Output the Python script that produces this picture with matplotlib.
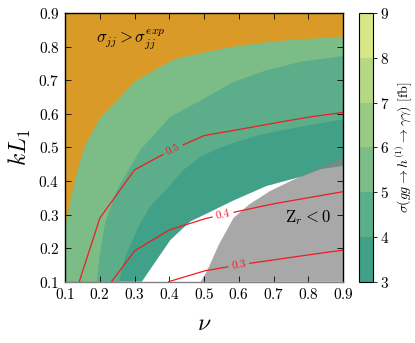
import numpy as np
import matplotlib
matplotlib.use("Agg")
import matplotlib.pyplot as plt
from matplotlib.colors import ListedColormap, BoundaryNorm
from matplotlib.patches import Polygon
from matplotlib.cm import ScalarMappable

plt.rcParams["mathtext.fontset"] = "cm"
plt.rcParams["font.family"] = "serif"
plt.rcParams["font.serif"] = ["cmr10"]
plt.rcParams["axes.formatter.use_mathtext"] = True

# ---------------- data ----------------
nu_lim = (0.1, 0.9)
kl_lim = (0.1, 0.9)
ticks = [0.1, 0.2, 0.3, 0.4, 0.5, 0.6, 0.7, 0.8, 0.9]

levels = [3, 4, 5, 6, 7, 8, 9]
band_colors = ["#40a088", "#5bae89", "#7cbd87", "#98ca84", "#b5d882", "#d6e787"]

# excluded region sigma_jj > exp (above this boundary)
orange_nu = [0.1, 0.11, 0.13, 0.158, 0.2, 0.3, 0.374, 0.422, 0.5, 0.584, 0.681, 0.777, 0.9]
orange_kl = [0.265, 0.31, 0.41, 0.507, 0.586, 0.695, 0.74, 0.765, 0.782, 0.8, 0.813, 0.822, 0.828]

# sigma = 5 fb contour
sig5_nu = [0.192, 0.199, 0.215, 0.249, 0.316, 0.403, 0.5, 0.585, 0.681, 0.777, 0.9]
sig5_kl = [0.1, 0.174, 0.274, 0.373, 0.492, 0.591, 0.645, 0.695, 0.73, 0.755, 0.772]

# sigma = 4 fb contour
sig4_nu = [0.255, 0.273, 0.316, 0.345, 0.39, 0.44, 0.49, 0.54, 0.6, 0.66, 0.78, 0.9]
sig4_kl = [0.1, 0.174, 0.274, 0.323, 0.373, 0.432, 0.472, 0.497, 0.518, 0.537, 0.562, 0.583]

# sigma = 3 fb contour
sig3_nu = [0.321, 0.403, 0.46, 0.518, 0.585, 0.68, 0.78, 0.835, 0.9]
sig3_kl = [0.1, 0.224, 0.279, 0.308, 0.342, 0.385, 0.413, 0.435, 0.445]

# Z_r < 0 region (below this boundary)
gray_nu = [0.49, 0.508, 0.542, 0.585, 0.63, 0.69, 0.75, 0.835, 0.9]
gray_kl = [0.1, 0.13, 0.209, 0.29, 0.33, 0.37, 0.4, 0.44, 0.47]

# red contour lines
c05_nu = [0.141, 0.2, 0.3, 0.4, 0.5, 0.6, 0.7, 0.8, 0.9]
c05_kl = [0.1, 0.289, 0.433, 0.489, 0.535, 0.553, 0.572, 0.59, 0.604]
c04_nu = [0.234, 0.3, 0.4, 0.5, 0.6, 0.7, 0.8, 0.9]
c04_kl = [0.1, 0.192, 0.254, 0.287, 0.31, 0.332, 0.35, 0.368]
c03_nu = [0.398, 0.5, 0.6, 0.7, 0.8, 0.9]
c03_kl = [0.1, 0.132, 0.15, 0.165, 0.18, 0.194]
red_lines = [("0.5", c05_nu, c05_kl, 0.41),
             ("0.4", c04_nu, c04_kl, 0.555),
             ("0.3", c03_nu, c03_kl, 0.60)]

# ---------------- figure ----------------
fig = plt.figure(figsize=(4.15, 3.43), dpi=100)
ax = fig.add_axes([0.1566, 0.1787, 0.67, 0.7833])
cax = fig.add_axes([0.865, 0.1787, 0.034, 0.7833])
ax.set_xlim(*nu_lim)
ax.set_ylim(*kl_lim)

x0, x1 = nu_lim
y0, y1 = kl_lim


def region_above(xs, ys, start_bottom):
    pts = list(zip(xs, ys))
    if start_bottom:
        pts = [(x0, y0)] + pts
    pts += [(x1, y1), (x0, y1)]
    return np.array(pts)


ax.add_patch(Polygon(region_above(sig3_nu, sig3_kl, True), closed=True,
                     facecolor=band_colors[0], edgecolor="none", zorder=1))
ax.add_patch(Polygon(region_above(sig4_nu, sig4_kl, True), closed=True,
                     facecolor=band_colors[1], edgecolor="none", zorder=1.1))
ax.add_patch(Polygon(region_above(sig5_nu, sig5_kl, True), closed=True,
                     facecolor=band_colors[2], edgecolor="none", zorder=1.2))
ax.add_patch(Polygon(region_above(orange_nu, orange_kl, False), closed=True,
                     facecolor="#d99a28", edgecolor="none", zorder=1.3))
gray_pts = np.array(list(zip(gray_nu, gray_kl)) + [(x1, y0)])
ax.add_patch(Polygon(gray_pts, closed=True, facecolor="#848484", alpha=0.7,
                     edgecolor="none", zorder=1.4))

# red contour lines with inline labels
for lab, xs, ys, xl in red_lines:
    xd = np.linspace(xs[0], xs[-1], 600)
    yd = np.interp(xd, xs, ys)
    disp = ax.transData.transform(np.column_stack([xd, yd]))
    yl = np.interp(xl, xs, ys)
    c = ax.transData.transform((xl, yl))
    dist = np.hypot(disp[:, 0] - c[0], disp[:, 1] - c[1])
    ym = np.ma.masked_where(dist < 11, yd)
    ax.plot(xd, ym, color="#ee1c24", lw=0.9, zorder=3)
    i = np.argmin(dist)
    j0, j1 = max(i - 5, 0), min(i + 5, len(xd) - 1)
    ang = np.degrees(np.arctan2(disp[j1, 1] - disp[j0, 1], disp[j1, 0] - disp[j0, 0]))
    ax.text(xl, yl, lab, color="#ee1c24", fontsize=8, rotation=ang,
            rotation_mode="anchor", ha="center", va="center", zorder=4)

ax.text(0.29, 0.82, r"$\sigma_{jj} > \sigma_{jj}^{exp}$", fontsize=12,
        ha="center", va="center", zorder=5)
ax.text(0.80, 0.29, r"$\mathrm{Z}_r < 0$", fontsize=12,
        ha="center", va="center", zorder=5)

ax.set_xticks(ticks)
ax.set_yticks(ticks)
ax.tick_params(direction="in", top=True, right=True, length=4, width=0.6,
               labelsize=11, pad=4)
for s in ax.spines.values():
    s.set_linewidth(1.0)
    s.set_zorder(6)
ax.spines["bottom"].set_color("#808080")
ax.set_xlabel(r"$\nu$", fontsize=17, labelpad=8)
ax.set_ylabel(r"$kL_1$", fontsize=17, labelpad=4)

cmap = ListedColormap(band_colors)
norm = BoundaryNorm(levels, cmap.N)
cb = fig.colorbar(ScalarMappable(norm=norm, cmap=cmap), cax=cax, ticks=levels)
cb.ax.tick_params(labelsize=11, length=3, width=0.6, pad=2)
cb.outline.set_linewidth(0.8)
cb.set_label(r"$\sigma(gg \rightarrow h^{(1)} \rightarrow \gamma\gamma)$ [fb]",
             fontsize=10, labelpad=3)

fig.savefig("out.png", dpi=100)
